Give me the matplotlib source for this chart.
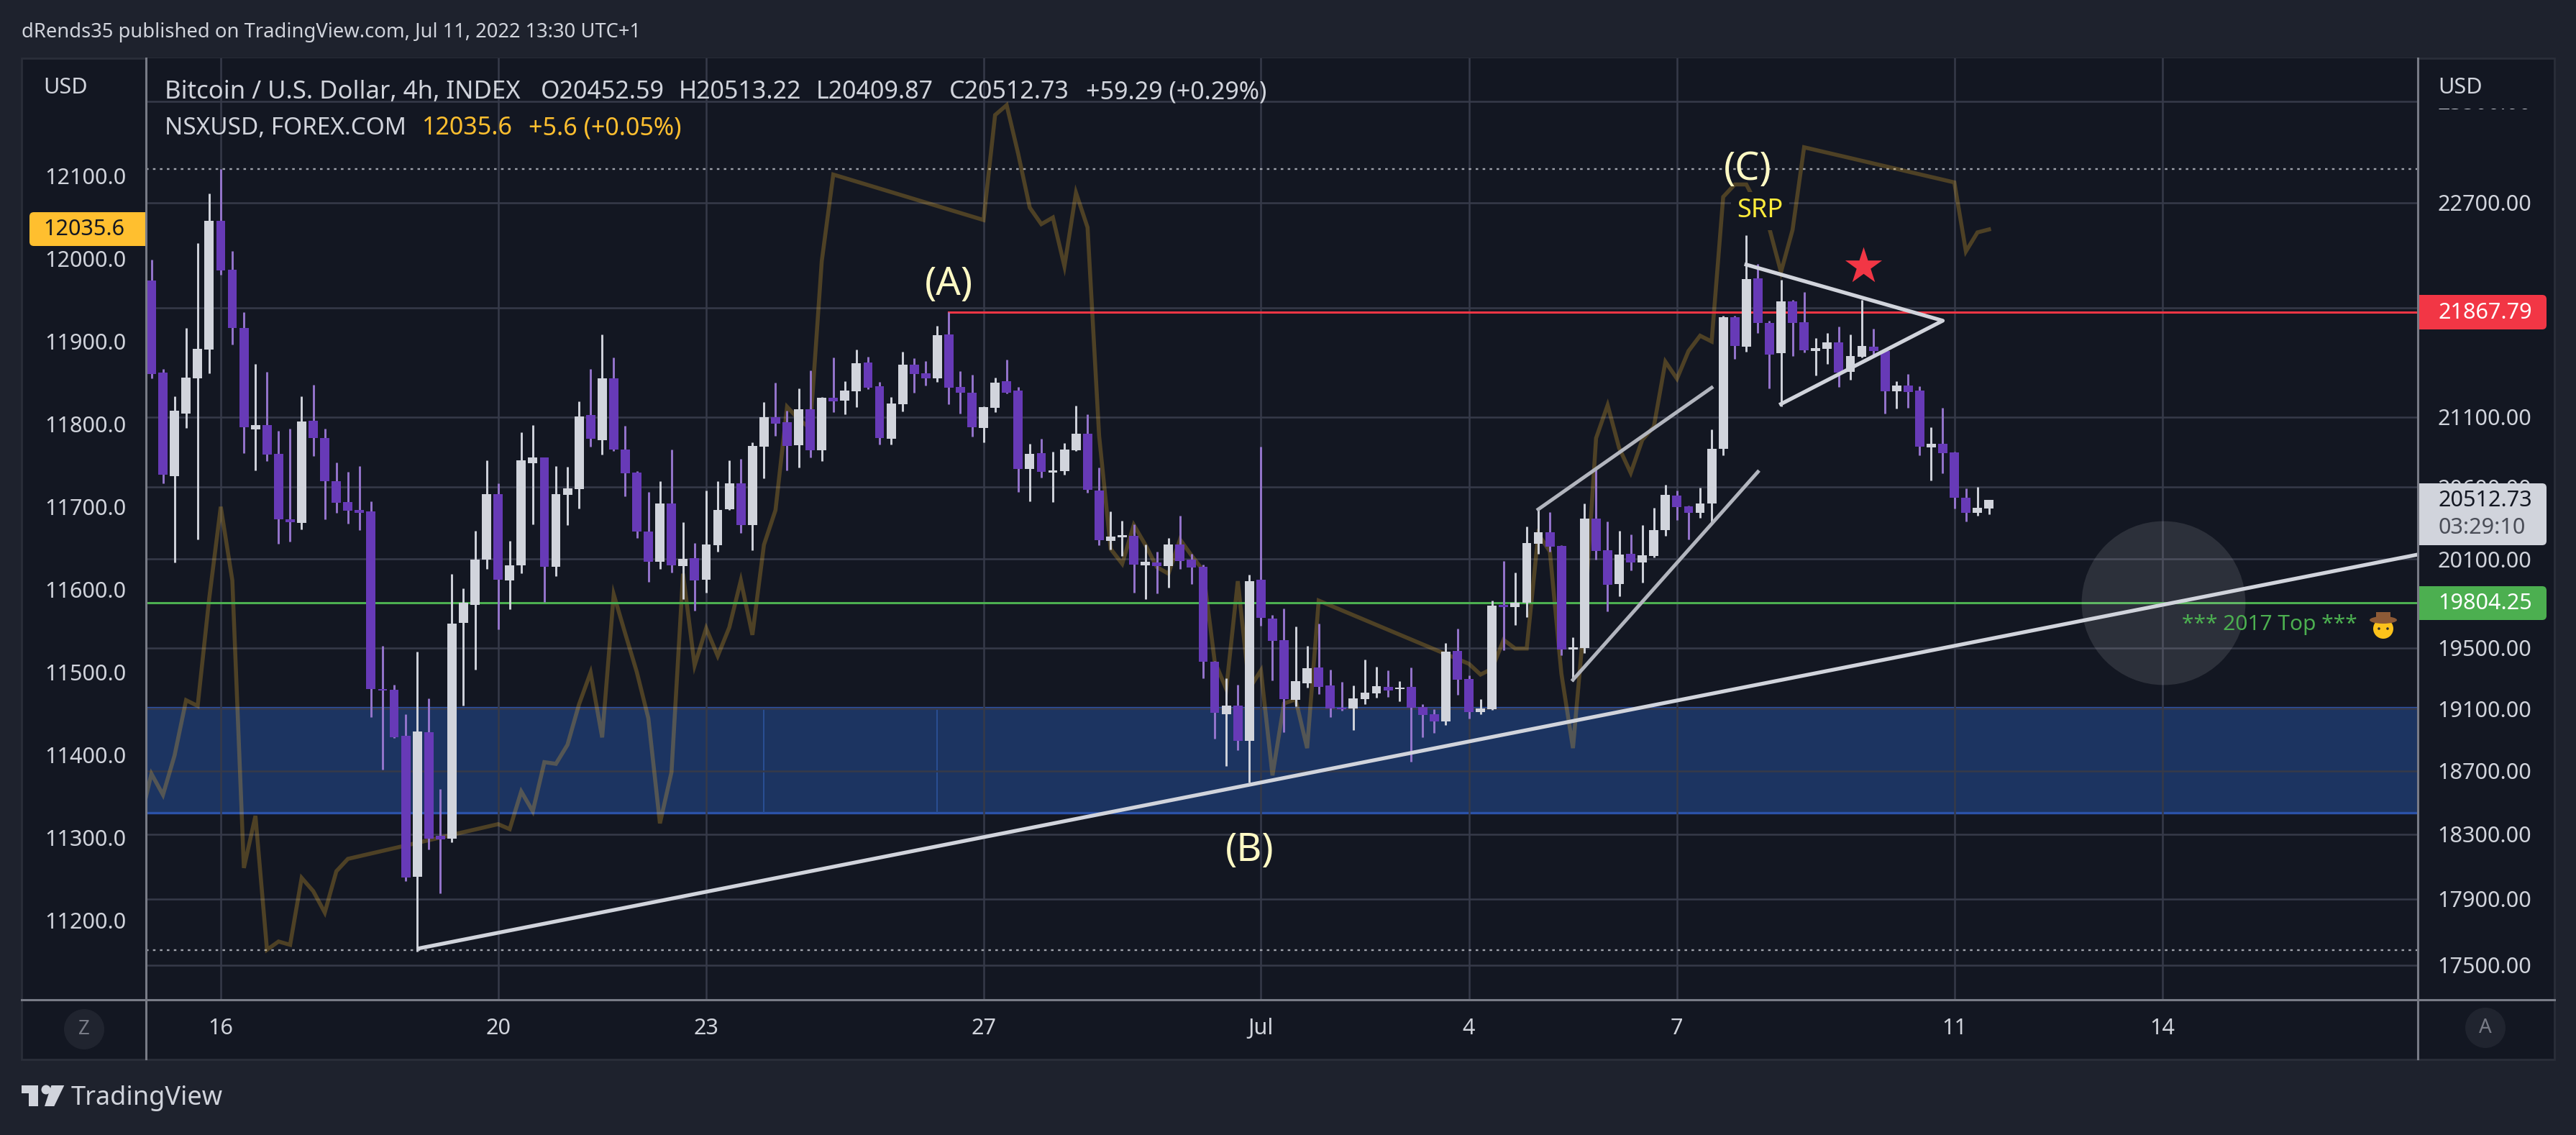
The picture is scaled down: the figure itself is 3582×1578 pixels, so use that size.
import matplotlib
matplotlib.use("Agg")
import matplotlib.pyplot as plt
from matplotlib.patches import Circle, Ellipse, FancyBboxPatch, Polygon, Rectangle
from matplotlib.ticker import NullLocator

plt.rcParams['font.family'] = ['Noto Sans', 'DejaVu Sans']

# BTC 4h candles
opens = [22104, 21422, 20677, 21124, 21380, 21590, 22559, 22185, 21749, 21010, 21041, 20836, 20375, 20350, 21072, 20949,
         20642, 20495, 20440, 20430, 19228, 19224, 18925, 18036, 18948, 18290, 18272, 19668, 19788, 20097, 20550, 19954,
         20057, 20768, 20809, 20047, 20545, 20585, 21114, 20934, 21380, 20867, 20703, 20289, 20082, 20485, 20052, 20107,
         19959, 20195, 20445, 20627, 20334, 20887, 21098, 21062, 20897, 21156, 20862, 21239, 21218, 21285, 21495, 21322,
         20944, 21192, 21479, 21416, 21380, 21702, 21316, 21275, 21021, 21166, 21358, 21290, 20728, 20841, 20703, 20713,
         20862, 20980, 20575, 20225, 20250, 20260, 20057, 20077, 20052, 20200, 20097, 20047, 19409, 19063, 19119, 18892,
         19959, 19697, 19552, 19158, 19266, 19371, 19252, 19105, 19101, 19163, 19200, 19243, 19228, 19243, 19110, 19063,
         19017, 19480, 19294, 19078, 19096, 19788, 19774, 19803, 20205, 20284, 20190, 19490, 19499, 20379, 20161, 19930,
         20136, 20077, 20121, 20299, 20540, 20465, 20420, 20485, 20872, 21829, 21611, 22120, 21786, 21563, 21948, 21792,
         21579, 21595, 21643, 21427, 21537, 21611, 21579, 21285, 21327, 21290, 20882, 20908, 20846, 20525, 20420, 20452.59]
highs = [22261, 21448, 21249, 21749, 22386, 22770, 22960, 22326, 21866, 21485, 21427, 21000, 21016, 21249, 21332, 21016,
         20773, 20708, 20748, 20500, 19514, 19257, 19063, 19475, 19167, 18584, 19998, 19900, 20294, 20789, 20627, 20225,
         20990, 21041, 20809, 20748, 20743, 21213, 21448, 21702, 21532, 21036, 20713, 20565, 20642, 20867, 20355, 20210,
         20575, 20642, 20789, 20799, 20918, 21207, 21347, 21145, 21306, 21437, 21244, 21532, 21358, 21590, 21537, 21353,
         21244, 21574, 21526, 21505, 21765, 21866, 21432, 21406, 21176, 21385, 21516, 21316, 20908, 20944, 20850, 20913,
         21181, 21119, 20738, 20430, 20365, 20340, 20200, 20151, 20245, 20398, 20136, 20062, 19414, 19299, 19257, 19993,
         20887, 19721, 19764, 19644, 19514, 19663, 19356, 19275, 19252, 19423, 19375, 19352, 19280, 19371, 19128, 19096,
         19533, 19630, 19318, 19163, 19817, 20087, 20008, 20324, 20445, 20425, 20195, 19571, 20485, 20728, 20360, 20294,
         20270, 20334, 20455, 20616, 20575, 20470, 20596, 21010, 21840, 21840, 22451, 22229, 21802, 22109, 21959, 22018,
         21675, 21712, 21760, 21702, 21959, 21744, 21579, 21358, 21411, 21322, 21026, 21166, 20851, 20590, 20601, 20513.22]
lows = [21380, 20627, 20077, 21021, 20235, 21416, 22147, 21627, 20841, 20718, 20785, 20205, 20220, 20304, 20820, 20375,
        20420, 20345, 20300, 19045, 18708, 18911, 18010, 17582, 18204, 17934, 18250, 19123, 19355, 20032, 19625, 19759,
        20003, 20339, 19808, 19983, 20334, 20450, 20887, 20831, 20857, 20535, 20245, 19944, 20032, 20008, 19827, 19750,
        19871, 20151, 20440, 20279, 20161, 20662, 20964, 20718, 20738, 20809, 20785, 21135, 21119, 21171, 21301, 20903,
        20903, 21140, 21275, 21327, 21353, 21192, 21124, 20959, 20918, 21135, 21270, 20565, 20500, 20667, 20495, 20687,
        20857, 20560, 20195, 20166, 20121, 19871, 19827, 19866, 19905, 20032, 19930, 19299, 18906, 18731, 18832, 18624,
        19649, 19285, 18948, 19115, 19238, 19196, 19045, 19086, 18962, 19128, 19172, 19177, 19149, 18759, 18915, 18943,
        18994, 19191, 19036, 19063, 19091, 19485, 19654, 19707, 20136, 20151, 19452, 19280, 19466, 20097, 19745, 19847,
        20022, 19939, 20111, 20260, 20370, 20235, 20385, 20355, 20826, 21521, 21574, 21712, 21306, 21176, 21542, 21569,
        21401, 21485, 21316, 21369, 21532, 21542, 21124, 21160, 21166, 20826, 20647, 20698, 20450, 20360, 20400, 20409.87]
closes = [21411, 20687, 21145, 21385, 21595, 22559, 22179, 21749, 21026, 21041, 20831, 20375, 20355, 21067, 20949, 20642,
          20490, 20435, 20420, 19228, 19219, 18915, 18032, 18952, 18272, 18268, 19663, 19803, 20097, 20550, 19959, 20057,
          20789, 20809, 20047, 20550, 20590, 21103, 20944, 21380, 20867, 20698, 20289, 20082, 20485, 20057, 20102, 19954,
          20200, 20440, 20627, 20334, 20892, 21098, 21052, 20892, 21156, 20862, 21239, 21213, 21290, 21490, 21311, 20949,
          21197, 21479, 21411, 21380, 21696, 21311, 21275, 21026, 21171, 21347, 21275, 20728, 20836, 20708, 20718, 20867,
          20980, 20580, 20230, 20255, 20265, 20062, 20082, 20052, 20200, 20087, 20042, 19409, 19073, 19119, 18892, 19949,
          19702, 19547, 19163, 19280, 19366, 19243, 19101, 19096, 19167, 19205, 19247, 19219, 19238, 19105, 19059, 19017,
          19475, 19290, 19078, 19101, 19784, 19774, 19803, 20210, 20284, 20185, 19490, 19504, 20379, 20156, 19925, 20131,
          20077, 20126, 20299, 20545, 20460, 20420, 20485, 20872, 21829, 21616, 22115, 21786, 21553, 21948, 21786, 21584,
          21600, 21643, 21422, 21542, 21616, 21579, 21285, 21327, 21280, 20887, 20908, 20841, 20525, 20420, 20455, 20512.73]

# NSX overlay, markets closed at the weekends so the line jumps across them
nsx_bars = [-1, 0, 1, 2, 3, 4, 5, 6, 7, 8, 9, 10, 11, 12, 13, 14, 15, 16, 17,
            30, 31, 32, 33, 34, 35, 36, 37, 38, 39, 40, 41, 42, 43, 44, 45, 46, 47, 48, 49, 50, 51, 52, 53, 54, 55, 56, 57, 58, 59,
            72, 73, 74, 75, 76, 77, 78, 79, 80, 81, 82, 83, 84, 85, 86, 87, 88, 89, 90, 91, 92, 93, 94, 95, 96, 97, 98, 99, 100, 101,
            114, 115, 116, 117, 118, 119, 120, 121, 122, 123, 124, 125, 126, 127, 128, 129, 130, 131, 132, 133, 134, 135, 136, 137, 138, 139, 140, 141, 142, 143,
            156, 157, 158, 159]
nsx_values = [11318, 11377, 11351.5, 11399, 11466, 11459, 11589, 11700, 11611, 11263, 11326, 11164, 11174, 11170, 11251, 11235, 11209, 11259, 11274,
              11316, 11310, 11355.5, 11331.5, 11391, 11389, 11412, 11461, 11499.5, 11421, 11594, 11546.5, 11500, 11444, 11317, 11379, 11619, 11508, 11553, 11519.5, 11554, 11611, 11545, 11654, 11696, 11821, 11806, 11795, 11997, 12102,
              12047, 12174, 12186, 12127, 12062, 12042, 12050, 11991, 12080, 12038, 11786, 11649, 11631, 11678, 11654, 11627, 11619, 11660.5, 11641, 11623, 11513, 11479.5, 11610, 11480, 11502, 11375, 11462, 11467, 11408, 11586.5,
              11510, 11497, 11504, 11539, 11528.5, 11528.5, 11667, 11646, 11498, 11408, 11566.5, 11783, 11823, 11771, 11741, 11781, 11797, 11875.5, 11855, 11888.5, 11907, 11900, 12075, 12090, 12090, 12063, 12036.5, 11984, 12035, 12135,
              12092.5, 12009, 12032, 12035.6]

day_bars = [6, 30, 48, 72, 96, 114, 132, 156, 174]
day_labels = ['16', '20', '23', '27', 'Jul', '4', '7', '11', '14']
price_ticks = [17500, 17900, 18300, 18700, 19100, 19500, 20100, 20600, 21100, 21900, 22700, 23500]
nsx_ticks = [11200, 11300, 11400, 11500, 11600, 11700, 11800, 11900, 12000, 12100]

# drawings
support_bars, support_prices = [23, 196.3], [17599, 20135]
channel_up_bars, channel_up_prices = [120, 135], [20445, 21311]
channel_low_bars, channel_low_prices = [123, 139], [19290, 20708]
wedge_bars, wedge_prices = [138, 155, 141], [22225, 21804, 21193]
zone_top, zone_bottom = 19107, 18434
zone_splits = [53, 68]
resistance = 21867.79
top_2017 = 19804.25
visible_high, visible_low = 22960, 17590
last_price = 20512.73
nsx_last = 12035.6

BG = '#1e222d'
PANE = '#131722'
TEXT = '#d1d4dc'
GRID = '#363a49'
AXIS = '#787b86'
PURPLE = '#673ab7'
PURPLE_WICK = '#9575cd'
RED = '#f23645'
GREEN = '#4caf50'
ORANGE = '#ffbf2f'
CREAM = '#fff9c4'

W, H = 3582, 1578
LEFT, RIGHT, TOP, BOTTOM = 203, 3362, 81, 1390


def px_axes(zorder):
    a = fig.add_axes([0, 0, 1, 1], zorder=zorder)
    a.set_xlim(0, W)
    a.set_ylim(H, 0)
    a.axis('off')
    a.patch.set_alpha(0)
    return a


fig = plt.figure(figsize=(W / 100, H / 100), dpi=100, facecolor=BG)

under = px_axes(0)
under.add_patch(Rectangle((30, 81), 3522, 1391.5, fc=PANE, ec='#2a2e39', lw=2))

ax_back = fig.add_axes([LEFT / W, 1 - BOTTOM / H, (RIGHT - LEFT) / W, (BOTTOM - TOP) / H], zorder=1, facecolor=PANE)
ax_nsx = ax_back.twinx()
ax_nsx.set_zorder(2)
ax = ax_back.twinx()
ax.set_zorder(3)

for a in (ax_back, ax_nsx, ax):
    for s in a.spines.values():
        s.set_visible(False)

ax_back.set_xlim(-0.47, 196.1)
ax_back.set_yscale('log')
ax_back.set_ylim(17295, 23846)
ax_back.set_yticks(price_ticks, [f'{p}.00' for p in price_ticks])
ax_back.yaxis.set_minor_locator(NullLocator())
ax_back.yaxis.tick_right()
ax_back.set_xticks(day_bars, day_labels)
ax_back.grid(True, color=GRID, lw=1.8)
ax_back.set_axisbelow(False)
ax_back.tick_params(axis='both', length=0, colors=TEXT, labelsize=22)
ax_back.tick_params(axis='y', pad=20)
ax_back.tick_params(axis='x', pad=18)

# blue demand zone sits under the grid
ax_back.axhspan(zone_bottom, zone_top, fc='#1c3461', ec='none', zorder=0.5)
ax_back.hlines([zone_top, zone_bottom], -0.47, 196.1, color='#2b52a8', lw=2.4, zorder=0.6)
ax_back.vlines(zone_splits, zone_bottom, zone_top, color='#2a4f94', lw=1.4, zorder=0.6)
ax_back.hlines([visible_high, visible_low], -0.47, 196.1, color='#a0a3ac', lw=1.7,
               linestyles=[(0, (1.5, 2.6))], zorder=3)

ax_nsx.set_ylim(11103.5, 12242.7)
ax_nsx.set_yticks(nsx_ticks, [f'{v}.0' for v in nsx_ticks])
ax_nsx.yaxis.tick_left()
ax_nsx.tick_params(axis='y', length=0, colors=TEXT, labelsize=22, pad=20)
ax_nsx.plot(nsx_bars, nsx_values, color=ORANGE, alpha=0.25, lw=4, solid_joinstyle='miter')

ax.set_yscale('log')
ax.set_ylim(17295, 23846)
ax.set_yticks([])
ax.yaxis.set_minor_locator(NullLocator())

ax.hlines(top_2017, -0.47, 196.1, color=GREEN, lw=2.2, zorder=1)
ax.plot([69, 196.1], [resistance, resistance], color=RED, lw=2.2, zorder=1)
ax.scatter([174.1], [top_2017], s=26900, color='white', alpha=0.11, lw=0, zorder=1.5)

for i, (o, h, l, c) in enumerate(zip(opens, highs, lows, closes)):
    up = c >= o
    ax.vlines(i, l, h, color=TEXT if up else PURPLE_WICK, lw=2.1, zorder=2)
    ax.bar(i, abs(c - o), bottom=min(o, c), width=0.8, color=TEXT if up else PURPLE, lw=0, zorder=2.5)

ax.plot(support_bars, support_prices, color=TEXT, lw=3.8, zorder=4, solid_capstyle='butt')
ax.plot(channel_up_bars, channel_up_prices, color='#b2b5be', lw=3.6, zorder=4)
ax.plot(channel_low_bars, channel_low_prices, color='#b2b5be', lw=3.6, zorder=4)
ax.plot(wedge_bars, wedge_prices, color=TEXT, lw=3.8, zorder=4)

ax.scatter([148.1], [22212], marker='*', s=1500, color=RED, lw=0, zorder=5)
ax.text(69, 22077, '(A)', color=CREAM, fontsize=39, ha='center', va='center', zorder=6)
ax.text(95, 18200, '(B)', color=CREAM, fontsize=39, ha='center', va='center', zorder=6)
ax.text(138.1, 22960, '(C)', color=CREAM, fontsize=39, ha='center', va='center', zorder=6)
ax.text(139.2, 22636, 'SRP', color='#ffeb3b', fontsize=26, ha='center', va='center', zorder=6,
        bbox=dict(fc=PANE, ec='none', pad=6))
ax.text(183.3, 19658, '*** 2017 Top ***', color=GREEN, fontsize=21.5, ha='center', va='center', zorder=6)

over = px_axes(5)
# axis lines and panes
over.plot([30, 3552], [1390, 1390], color=AXIS, lw=2.2)
over.plot([203, 203], [81, 1472], color=AXIS, lw=2.2)
over.plot([3362, 3362], [81, 1472], color=AXIS, lw=2.2)
over.add_patch(Rectangle((3364, 83), 186, 68, fc=PANE, ec='none'))
over.text(60, 122, 'USD', color=TEXT, fontsize=22, va='center')
over.text(3390, 122, 'USD', color=TEXT, fontsize=22, va='center')

# header and legend
over.text(30, 45, 'dRends35 published on TradingView.com, Jul 11, 2022 13:30 UTC+1', color=TEXT, fontsize=19.7, va='center')
over.text(229, 128, 'Bitcoin / U.S. Dollar, 4h, INDEX', color=TEXT, fontsize=25, va='center')
for x, s in zip([752, 944, 1135, 1320, 1510],
                ['O20452.59', 'H20513.22', 'L20409.87', 'C20512.73', '+59.29 (+0.29%)']):
    over.text(x, 128, s, color=TEXT, fontsize=24.5, va='center')
over.text(229, 178, 'NSXUSD, FOREX.COM', color=TEXT, fontsize=24, va='center')
over.text(587, 178, '12035.6', color=ORANGE, fontsize=24.5, va='center')
over.text(735, 178, '+5.6 (+0.05%)', color=ORANGE, fontsize=24.5, va='center')


def price_tag(y0, y1, color):
    over.add_patch(FancyBboxPatch((3368, y0 + 6), 167, y1 - y0 - 12, boxstyle='round,pad=6', fc=color, ec='none'))
    over.add_patch(Rectangle((3361, y0), 20, y1 - y0, fc=color, ec='none'))


price_tag(410, 458, RED)
over.text(3390, 434.5, f'{resistance:.2f}', color='white', fontsize=22, va='center', fontweight='bold')
price_tag(815, 862, GREEN)
over.text(3390, 839, f'{top_2017:.2f}', color='white', fontsize=22, va='center', fontweight='bold')
price_tag(672, 758, TEXT)
over.text(3390, 696, f'{last_price:.2f}', color='#131722', fontsize=22, va='center')
over.text(3390, 734, '03:29:10', color='#4a4d57', fontsize=22, va='center')

over.add_patch(FancyBboxPatch((47, 301), 150, 35, boxstyle='round,pad=6', fc=ORANGE, ec='none'))
over.add_patch(Rectangle((185, 295), 19, 47, fc=ORANGE, ec='none'))
over.text(60, 319, f'{nsx_last}', color='#131722', fontsize=22, va='center')

# buttons
over.add_patch(Circle((117, 1431), 28, fc='#20242f', ec='none'))
over.text(117, 1431, 'Z', color=AXIS, fontsize=20, ha='center', va='center')
over.add_patch(Circle((3456, 1429), 28, fc='#20242f', ec='none'))
over.text(3456, 1429, 'A', color=AXIS, fontsize=20, ha='center', va='center')

# cowboy face
over.add_patch(Circle((3314, 874), 14, fc='#fcc21b', ec='none'))
over.add_patch(Ellipse((3314, 862), 38, 10, fc='#8d5a36', ec='none'))
over.add_patch(Rectangle((3304, 851), 20, 10, fc='#8d5a36', ec='none'))
over.add_patch(Circle((3308, 874), 1.8, fc='#2f2f2f', ec='none'))
over.add_patch(Circle((3320, 874), 1.8, fc='#2f2f2f', ec='none'))

# TradingView logo
over.add_patch(Polygon([(30, 1509), (53, 1509), (53, 1538), (40, 1538), (40, 1520), (30, 1520)], fc=TEXT, ec='none'))
over.add_patch(Circle((64, 1515), 6.5, fc=TEXT, ec='none'))
over.add_patch(Polygon([(71.4, 1509), (89.3, 1509), (75.3, 1538), (62, 1538)], fc=TEXT, ec='none'))
over.text(99, 1527, 'TradingView', color=TEXT, fontsize=26, va='center')

fig.savefig('out.png', dpi=100, facecolor=BG)
